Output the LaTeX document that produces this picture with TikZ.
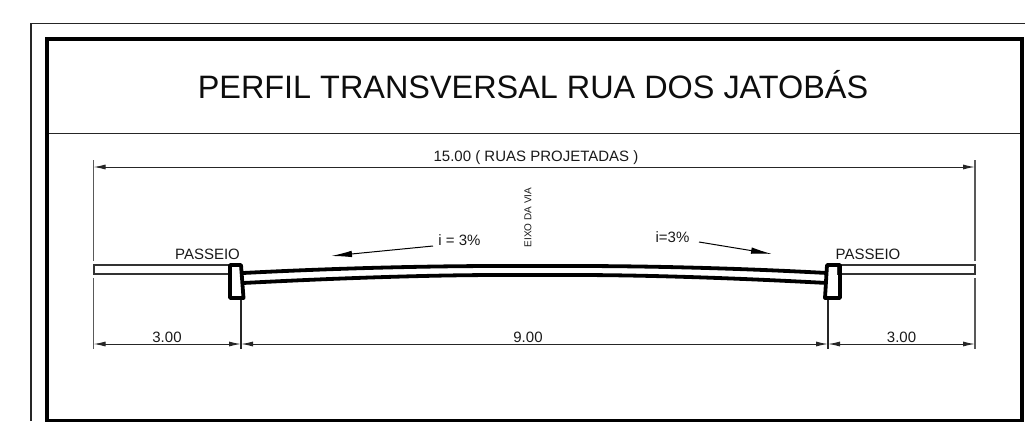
\documentclass[tikz,border=0pt]{standalone}
\usepackage{fontspec}
\setmainfont{Liberation Sans}
\usetikzlibrary{arrows.meta}
\tikzset{
  thinline/.style={draw=black!85,line width=1.2pt},
  frameline/.style={draw=black,line width=4pt},
  extline/.style={draw=black!65,line width=1.1pt},
  dimline/.style={draw=black!85,line width=1pt,{Latex[length=12pt,width=5pt]}-{Latex[length=12pt,width=5pt]}},
  slope/.style={draw=black,line width=1pt,-{Latex[length=21pt,width=6.5pt]}},
  road/.style={draw=black,line width=3.8pt},
  curb/.style={draw=black,line width=3.8pt,line join=round},
  walk/.style={draw=black!80,line width=1.2pt,fill=white},
  lbl/.style={inner sep=0pt,font=\fontsize{15}{17}\selectfont,text=black!90},
  x=1pt,y=-1pt
}
\begin{document}
\begin{tikzpicture}
\useasboundingbox (0,0) rectangle (1025,421);
% frames
\draw[thinline] (31,421) -- (31,23.5) -- (1025,23.5);
\draw[frameline] (47,423) -- (47,39) -- (1022,39) -- (1022,423);
\draw[frameline] (47,420.5) -- (1022,420.5);
\draw[thinline] (49,133.5) -- (1020,133.5);
% title
\node[inner sep=0pt,font=\fontsize{32.4}{36}\selectfont,text=black!95] (title) at (533,85) {PERFIL TRANSVERSAL RUA DOS JATOBÁS};
% coordinates for dimensions
\coordinate (a) at (93.5,344);
\coordinate (b) at (241,344);
\coordinate (c) at (828,344);
\coordinate (d) at (975,344);
\coordinate (ta) at (93.5,167);
\coordinate (td) at (975,167);
% extension lines
\draw[extline] (93.5,160) -- (93.5,260.5);
\draw[extline] (93.5,278) -- (93.5,349);
\draw[extline] (975,160) -- (975,260.5);
\draw[extline] (975,278) -- (975,349);
\draw[thinline] (241,300) -- (241,349);
\draw[thinline] (828,300) -- (828,349);
% sidewalks
\draw[walk] (94,265) rectangle (231,274);
\draw[walk] (838,265) rectangle (975,274);
% road
\coordinate (rl1) at (243,273);
\coordinate (rl2) at (243,283);
\coordinate (rr1) at (827,273);
\coordinate (rr2) at (827,283);
\draw[road] (rl1) .. controls (340,268) and (430,266) .. (500,266) -- (575,266) .. controls (645,266) and (735,268) .. (rr1);
\draw[road] (rl2) .. controls (340,278) and (430,275) .. (500,275) -- (575,275) .. controls (645,275) and (735,278) .. (rr2);
% curbs
\draw[curb] (230,265) -- (241,265) -- (243.5,298) -- (230,298) -- cycle;
\draw[curb] (827,265) -- (840,265) -- (840,298) -- (825,298) -- cycle;
% dimension lines
\draw[dimline] (ta) -- (td);
\draw[dimline] (a) -- (b);
\draw[dimline] (b) -- (c);
\draw[dimline] (c) -- (d);
% slope arrows
\coordinate (s1) at (433,246);
\coordinate (s2) at (331,256);
\coordinate (s3) at (699,242);
\coordinate (s4) at (772,254);
\draw[slope] (s1) -- (s2);
\draw[slope] (s3) -- (s4);
% labels
\node[lbl] (l15) at (536,158) {15.00 ( RUAS PROJETADAS )};
\node[lbl] (pl) at (207.5,254) {PASSEIO};
\node[lbl] (pr) at (868,254) {PASSEIO};
\node[lbl] (d1) at (167,337) {3.00};
\node[lbl] (d2) at (528,337) {9.00};
\node[lbl] (d3) at (901.5,337) {3.00};
\node[lbl] (i1) at (459.5,240) {i = 3\%};
\node[lbl] (i2) at (672.5,237) {i=3\%};
\node[inner sep=0pt,font=\fontsize{10}{11}\selectfont,text=black!90,rotate=90] (eixo) at (528,217.5) {EIXO DA VIA};
\end{tikzpicture}
\end{document}
